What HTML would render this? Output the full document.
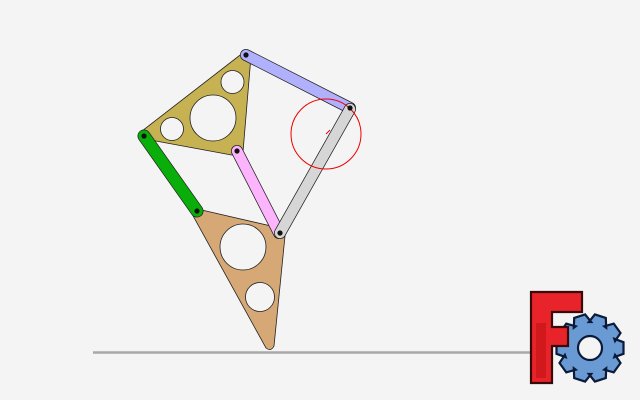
<!DOCTYPE html>
<html><head><meta charset="utf-8"><style>
html,body{margin:0;padding:0;background:#f4f4f4;}
svg{display:block;}
</style></head><body>
<svg width="640" height="400" viewBox="0 0 640 400">
<rect width="640" height="400" fill="#f4f4f4"/>
<line x1="93" y1="352.5" x2="540" y2="352.5" stroke="#a8a8a8" stroke-width="2.5"/>

<path fill-rule="evenodd" fill="#d6a876" stroke="#222" stroke-width="0.8"
 d="M193,208 L284,229 Q286,232 285,236 L274,346 Q271,352 266,348 L192,214 Q190,209 193,208 Z
 M266,247 A23,23 0 1 0 220,247 A23,23 0 1 0 266,247 Z
 M274.5,297 A14.5,14.5 0 1 0 245.5,297 A14.5,14.5 0 1 0 274.5,297 Z"/>

<path fill-rule="evenodd" fill="#c6b153" stroke="#222" stroke-width="0.8"
 d="M244,52 Q249,51 251,56 L243,152 Q242,157 237,156 L145,139 Q139,136 142,131 Z
 M244,82 A11.5,11.5 0 1 0 221,82 A11.5,11.5 0 1 0 244,82 Z
 M236,118 A23,23 0 1 0 190,118 A23,23 0 1 0 236,118 Z
 M183.5,129 A11.5,11.5 0 1 0 160.5,129 A11.5,11.5 0 1 0 183.5,129 Z"/>

<line x1="144" y1="136" x2="197" y2="211" stroke="#222" stroke-width="13" stroke-linecap="round"/>
<line x1="144" y1="136" x2="197" y2="211" stroke="#0aae0a" stroke-width="11.5" stroke-linecap="round"/>
<line x1="237" y1="151" x2="279" y2="233" stroke="#222" stroke-width="12" stroke-linecap="round"/>
<line x1="237" y1="151" x2="279" y2="233" stroke="#fcb4fc" stroke-width="10.5" stroke-linecap="round"/>
<line x1="246" y1="55" x2="350" y2="108" stroke="#222" stroke-width="12" stroke-linecap="round"/>
<line x1="246" y1="55" x2="350" y2="108" stroke="#b0b0fc" stroke-width="10.5" stroke-linecap="round"/>
<line x1="350" y1="109" x2="280" y2="233" stroke="#222" stroke-width="12" stroke-linecap="round"/>
<line x1="350" y1="109" x2="280" y2="233" stroke="#d6d6d6" stroke-width="10.5" stroke-linecap="round"/>

<circle cx="326" cy="134" r="35" fill="none" stroke="#ee0000" stroke-width="1"/>
<line x1="326" y1="134" x2="330" y2="130" stroke="#ee0000" stroke-width="1"/>

<g fill="#111">
<circle cx="246" cy="55" r="2.6"/>
<circle cx="350" cy="108" r="2.6"/>
<circle cx="144" cy="136" r="2.6"/>
<circle cx="237" cy="151" r="2.6"/>
<circle cx="197" cy="211" r="2.6"/>
<circle cx="280" cy="233" r="2.6"/>
</g>

<g>
<path id="gear" fill="#6a9ad4" stroke="#0c1a3a" stroke-width="2.2" fill-rule="evenodd"/>
<path d="M531,292 H582 V312 H552 V327 H568 V346 H552 V383 H531 Z" fill="#e8242a" stroke="#3a0808" stroke-width="2.2"/>
<path d="M536,323 V378 H546 V323 Z" fill="#c81418" opacity="0.7"/>
</g>
</svg>
<script>
(function(){
 var cx=590,cy=348,ro=34,ri=26,n=10,d='';
 for(var i=0;i<n;i++){
  var a=i*2*Math.PI/n;
  var pts=[[ri,a-0.36],[ro,a-0.17],[ro,a+0.17],[ri,a+0.36]];
  pts.forEach(function(p,j){
   var x=cx+p[0]*Math.cos(p[1]),y=cy+p[0]*Math.sin(p[1]);
   d+=(i==0&&j==0?'M':'L')+x.toFixed(1)+','+y.toFixed(1)+' ';
  });
 }
 d+='Z M'+(cx+12)+','+cy+' A12,12 0 1 0 '+(cx-12)+','+cy+' A12,12 0 1 0 '+(cx+12)+','+cy+' Z';
 document.getElementById('gear').setAttribute('d',d);
})();
</script>
</body></html>
